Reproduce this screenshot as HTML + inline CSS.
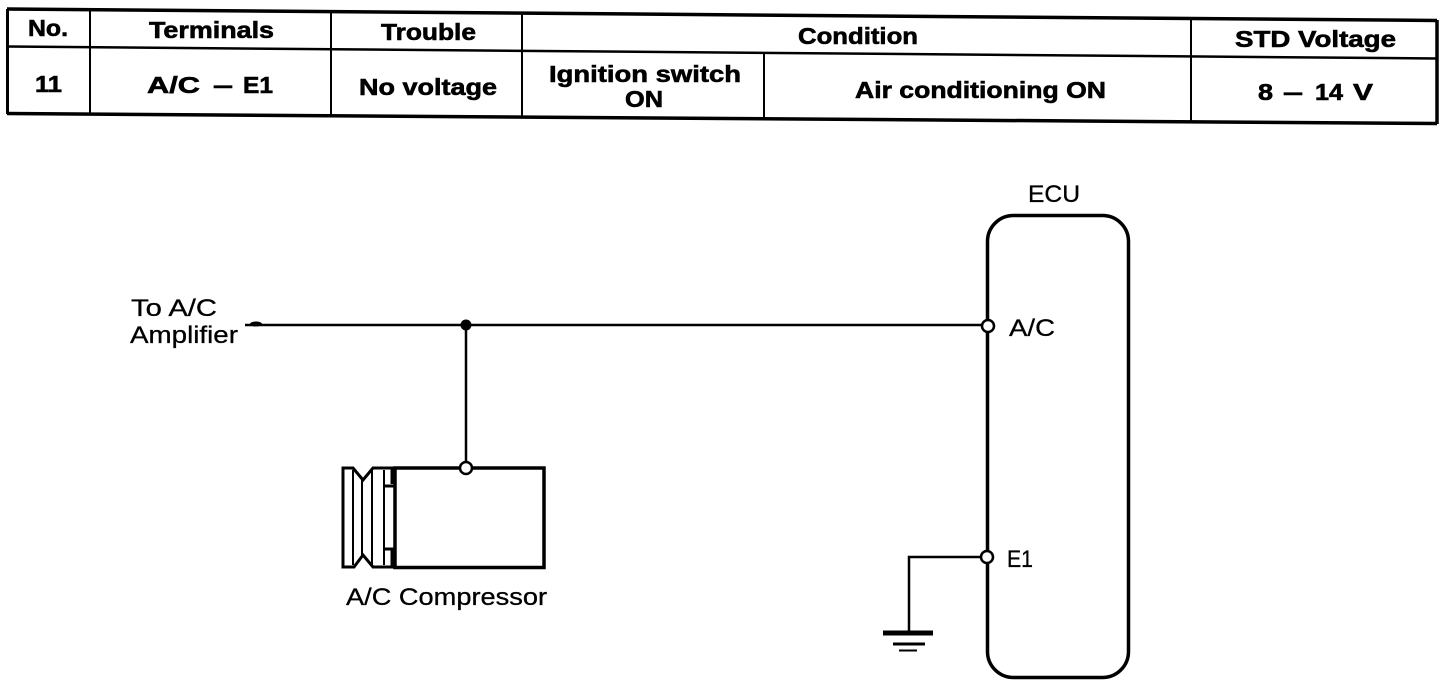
<!DOCTYPE html>
<html><head><meta charset="utf-8"><style>
html,body{margin:0;padding:0;background:#fff;width:1456px;height:686px;overflow:hidden}
svg{display:block}
text{font-family:"Liberation Sans",sans-serif;fill:#000}
.b{font-weight:700;font-size:23px;stroke:#000;stroke-width:.6}
.r{font-size:24px;stroke:#000;stroke-width:.3}
</style></head><body>
<svg width="1456" height="686" viewBox="0 0 1456 686" xmlns="http://www.w3.org/2000/svg">
<g stroke="#000" fill="none">
<path d="M7 9L1437 20.5" stroke-width="3.5"/>
<path d="M7 46.500L1437 58.500" stroke-width="2.500"/>
<path d="M7 113.500L1437 123.500" stroke-width="3.500"/>
<path d="M7.500 9V114" stroke-width="3"/>
<path d="M1437 20V124" stroke-width="3.500"/>
<path d="M90 10V114M331 12V116M522 13V116M1191 18V122" stroke-width="2"/>
<path d="M764 54V118" stroke-width="2"/>
</g>
<text class="b" x="28" y="36" textLength="40" lengthAdjust="spacingAndGlyphs">No.</text>
<text class="b" x="149" y="38" textLength="125" lengthAdjust="spacingAndGlyphs">Terminals</text>
<text class="b" x="381" y="40" textLength="95" lengthAdjust="spacingAndGlyphs">Trouble</text>
<text class="b" x="798" y="44" textLength="120" lengthAdjust="spacingAndGlyphs">Condition</text>
<text class="b" x="1235" y="47" textLength="161" lengthAdjust="spacingAndGlyphs">STD Voltage</text>
<text class="b" x="35" y="92" textLength="27" lengthAdjust="spacingAndGlyphs">11</text>
<text class="b" x="147" y="93" textLength="53" lengthAdjust="spacingAndGlyphs">A/C</text>
<text class="b" x="213" y="93" textLength="20" lengthAdjust="spacingAndGlyphs">–</text>
<text class="b" x="243" y="93" textLength="30" lengthAdjust="spacingAndGlyphs">E1</text>
<text class="b" x="359" y="95" textLength="138" lengthAdjust="spacingAndGlyphs">No voltage</text>
<text class="b" x="549" y="82" textLength="192" lengthAdjust="spacingAndGlyphs">Ignition switch</text>
<text class="b" x="625" y="107" textLength="38" lengthAdjust="spacingAndGlyphs">ON</text>
<text class="b" x="855" y="98" textLength="251" lengthAdjust="spacingAndGlyphs">Air conditioning ON</text>
<text class="b" x="1258" y="100" textLength="15" lengthAdjust="spacingAndGlyphs">8</text>
<text class="b" x="1283" y="100" textLength="20" lengthAdjust="spacingAndGlyphs">–</text>
<text class="b" x="1315" y="100" textLength="28" lengthAdjust="spacingAndGlyphs">14</text>
<text class="b" x="1353" y="100" textLength="20" lengthAdjust="spacingAndGlyphs">V</text>

<g stroke="#000" fill="none">
<rect x="987.500" y="215.500" width="141" height="462" rx="26" ry="26" stroke-width="3.500"/>
<path d="M245 325H982" stroke-width="2.500"/>
<path d="M466 325V463" stroke-width="2.500"/>
<path d="M982 557H909V632" stroke-width="2.500"/>
<path d="M883 633H933" stroke-width="5"/>
<path d="M893 644H925" stroke-width="3"/>
<path d="M899 650.500H917" stroke-width="2"/>
<rect x="395" y="468" width="149" height="99.500" stroke-width="3.500"/>
<path d="M392 484V468H373L363 480L353 468H343V567H354L363 555L373 567H392V550" stroke-width="3"/>
<path d="M362 480V555M372 470V565M384 470V565M353 470V565" stroke-width="2"/>
<path d="M384 486H395M384 549H395" stroke-width="3"/>
</g>
<ellipse cx="256" cy="324" rx="6" ry="2.500" fill="#000"/>
<circle cx="466" cy="325" r="5.500" fill="#000"/>
<g fill="#fff" stroke="#000" stroke-width="2.500">
<circle cx="988" cy="326" r="6"/>
<circle cx="987" cy="557" r="6"/>
<circle cx="466" cy="468" r="6"/>
</g>
<text class="r" x="131" y="316" textLength="86" lengthAdjust="spacingAndGlyphs">To A/C</text>
<text class="r" x="130" y="343" textLength="108" lengthAdjust="spacingAndGlyphs">Amplifier</text>
<text class="r" x="1028" y="202" textLength="52" lengthAdjust="spacingAndGlyphs">ECU</text>
<text class="r" x="1009" y="336" textLength="46" lengthAdjust="spacingAndGlyphs">A/C</text>
<text class="r" x="1007" y="567" textLength="26" lengthAdjust="spacingAndGlyphs">E1</text>
<text class="r" x="346" y="605" textLength="201" lengthAdjust="spacingAndGlyphs">A/C Compressor</text>
</svg>
</body></html>
